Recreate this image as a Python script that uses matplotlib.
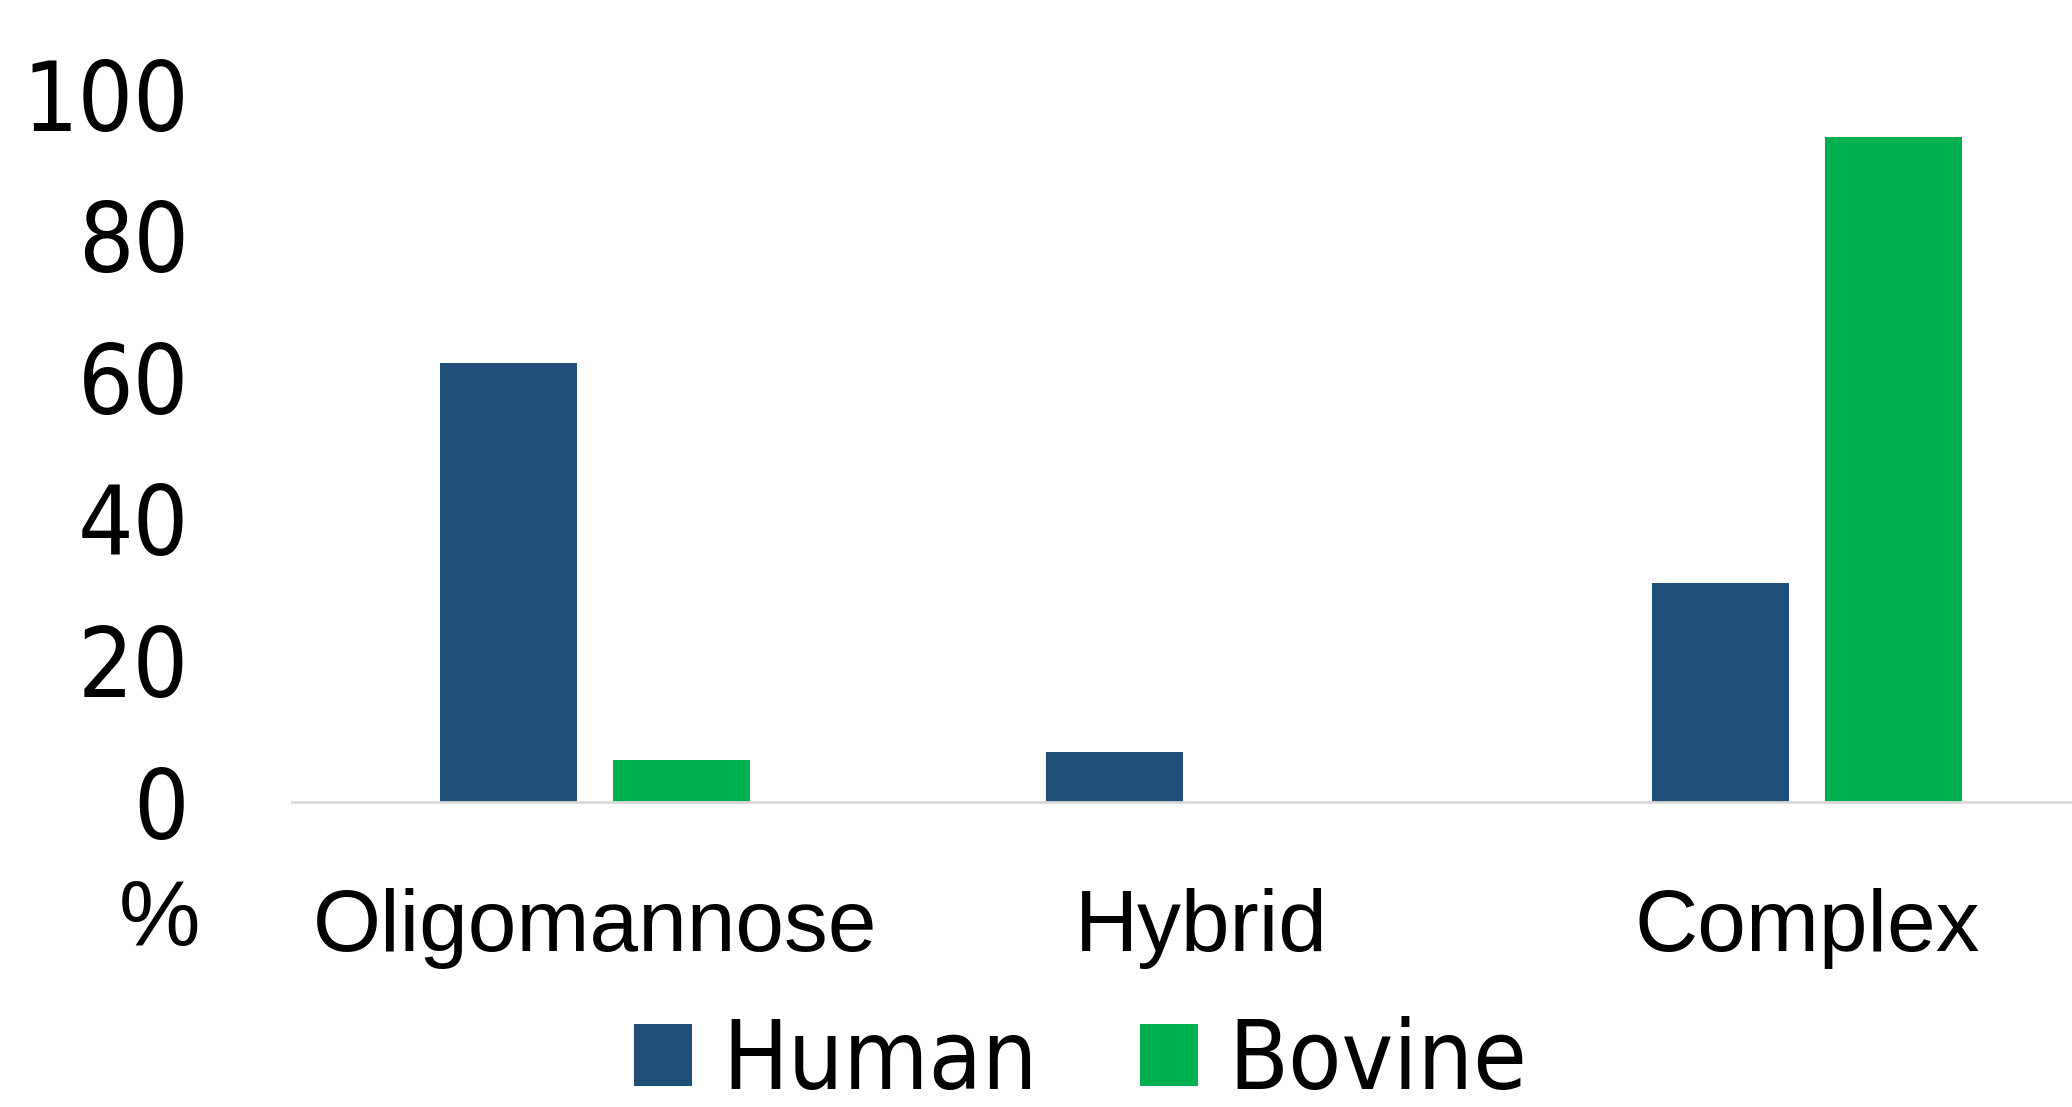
import matplotlib.pyplot as plt
import numpy as np
from matplotlib import font_manager

categories = ["Oligomannose", "Hybrid", "Complex"]
human = [62, 7, 31]
bovine = [6, 0, 94]
series_names = ["Human", "Bovine"]
y_ticks = [0, 20, 40, 60, 80, 100]

BLUE = "#1F4E79"
GREEN = "#00B050"

regular = "Liberation Sans"
# condensed face if the system has one, plain Liberation otherwise
cond = font_manager.FontProperties(family="DejaVu Sans", stretch="condensed", size=70)
has_cond = "Condensed" in font_manager.findfont(cond)
tick_font = cond if has_cond else font_manager.FontProperties(family=regular, size=70)

fig = plt.figure(figsize=(20.72, 11.07), dpi=100)
ax = fig.add_axes([292 / 2072, 0.2755, (2072 - 292) / 2072, 0.6395])

x = np.arange(len(categories))
width = 0.225
off = 0.143
ax.bar(x - off, human, width, color=BLUE, label=series_names[0])
ax.bar(x + off, bovine, width, color=GREEN, label=series_names[1])

ax.set_xlim(-0.5, -0.5 + 1780 / 606)
ax.set_ylim(0, 100)
ax.set_yticks(y_ticks)
ax.set_yticklabels([str(v) for v in y_ticks])
for lab in ax.get_yticklabels():
    lab.set_fontproperties(tick_font)
ax.set_xticks(x)
ax.set_xticklabels(categories, fontsize=63, family=regular)
ax.tick_params(axis="y", length=0, pad=74)
ax.tick_params(axis="x", length=0, pad=62)

for side in ["top", "right", "left"]:
    ax.spines[side].set_visible(False)
ax.spines["bottom"].set_color("#D9D9D9")
ax.spines["bottom"].set_linewidth(2)

fig.text(160 / 2072, 1 - 921 / 1107, "%", fontsize=66, family=regular,
         ha="center", va="center")

leg_font = font_manager.FontProperties(family="DejaVu Sans", stretch="condensed",
                                       size=70)
leg = fig.legend(loc="center left", bbox_to_anchor=(634 / 2072, 0.040), ncol=2,
                 frameon=False, prop=leg_font, borderpad=0, borderaxespad=0,
                 handlelength=0.6, handleheight=0.6, handletextpad=0.31,
                 columnspacing=1.05)

fig.savefig("out.png", dpi=100)
